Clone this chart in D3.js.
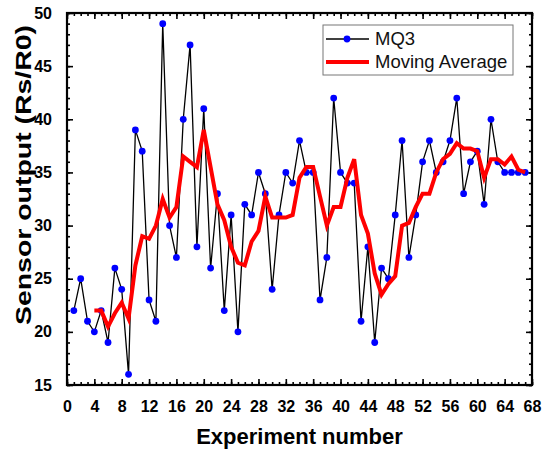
<!DOCTYPE html>
<html>
<head>
<meta charset="utf-8">
<script src="https://cdn.jsdelivr.net/npm/d3@7"></script>
<style>
  body { margin: 0; background: #fff; }
  text { font-family: "Liberation Sans", Arial, sans-serif; }
</style>
</head>
<body>
<div id="chart"></div>
<script>
// MQ3 readings, experiments 1..67
const experiments = d3.range(1, 68);
const mq3 = [22, 25, 21, 20, 22, 19, 26, 24, 16, 39, 37, 23, 21, 49, 30, 27, 40, 47, 28, 41,
             26, 33, 22, 31, 20, 32, 31, 35, 33, 24, 31, 35, 34, 38, 35, 35, 23, 27, 42, 35,
             34, 34, 21, 28, 19, 26, 25, 31, 38, 27, 31, 36, 38, 35, 36, 38, 42, 33, 36, 37,
             32, 40, 36, 35, 35, 35, 35];

const maExperiments = d3.range(4, 68);
const movingAvg = [22, 22, 20.5, 21.75, 22.75, 21.25, 26.25, 29, 28.75, 30, 32.5, 30.75, 31.75,
                   36.5, 36, 35.5, 39, 35.5, 32, 30.5, 28, 26.5, 26.25, 28.5, 29.5, 32.75, 30.75,
                   30.75, 30.75, 31, 34.5, 35.5, 35.5, 32.75, 30, 31.75, 31.75, 34.5, 36.25, 31,
                   29.25, 25.5, 23.5, 24.5, 25.25, 30, 30.25, 31.75, 33, 33, 35, 36.25, 36.75,
                   37.75, 37.25, 37.25, 37, 34.5, 36.25, 36.25, 35.75, 36.5, 35.25, 35];

const xTicks = d3.range(0, 69, 4);
const yTicks = d3.range(15, 51, 5);
const legendLabels = ["MQ3", "Moving Average"];

const W = 550, H = 452;
const margin = {top: 13, right: 18, bottom: 67, left: 67};
const width = W - margin.left - margin.right;
const height = H - margin.top - margin.bottom;

const svg = d3.select("#chart").append("svg")
              .attr("width", W)
              .attr("height", H);
const chart = svg.append("g")
                 .attr("transform", `translate(${margin.left},${margin.top})`);

// scales
const x = d3.scaleLinear().domain([0, 68]).range([0, width]);
const y = d3.scaleLinear().domain([15, 50]).range([height, 0]);

// ticks: minor every 1, major with labels, all pointing inward, mirrored on top/right
const styleAxis = g => {
  g.select(".domain").remove();
  g.selectAll("line").attr("stroke", "#000").attr("stroke-width", 1.6);
};

chart.append("g")
      .attr("transform", `translate(0,${height})`)
      .call(d3.axisBottom(x).tickValues(d3.range(0, 69)).tickSize(-3).tickFormat(""))
      .call(styleAxis);
chart.append("g")
      .attr("transform", `translate(0,${height})`)
      .call(d3.axisBottom(x).tickValues(xTicks).tickSize(-6).tickPadding(16).tickFormat(d3.format("d")))
      .call(styleAxis)
      .selectAll("text")
        .attr("fill", "#000")
        .attr("font-size", "16px")
        .attr("font-weight", "bold");
chart.append("g")
      .call(d3.axisTop(x).tickValues(d3.range(0, 69)).tickSize(-3).tickFormat(""))
      .call(styleAxis);
chart.append("g")
      .call(d3.axisTop(x).tickValues(xTicks).tickSize(-6).tickFormat(""))
      .call(styleAxis);

chart.append("g")
      .call(d3.axisLeft(y).tickValues(d3.range(15, 51)).tickSize(-3).tickFormat(""))
      .call(styleAxis);
chart.append("g")
      .call(d3.axisLeft(y).tickValues(yTicks).tickSize(-6).tickPadding(15).tickFormat(d3.format("d")))
      .call(styleAxis)
      .selectAll("text")
        .attr("fill", "#000")
        .attr("font-size", "16px")
        .attr("font-weight", "bold");
chart.append("g")
      .attr("transform", `translate(${width},0)`)
      .call(d3.axisRight(y).tickValues(d3.range(15, 51)).tickSize(-3).tickFormat(""))
      .call(styleAxis);
chart.append("g")
      .attr("transform", `translate(${width},0)`)
      .call(d3.axisRight(y).tickValues(yTicks).tickSize(-6).tickFormat(""))
      .call(styleAxis);

// frame
chart.append("rect")
      .attr("width", width)
      .attr("height", height)
      .attr("fill", "none")
      .attr("stroke", "#000")
      .attr("stroke-width", 2.2);

// data lines
const rawData = experiments.map((e, i) => ({x: e, y: mq3[i]}));
const maData = maExperiments.map((e, i) => ({x: e, y: movingAvg[i]}));
const line = d3.line().x(d => x(d.x)).y(d => y(d.y));

chart.append("path")
      .datum(rawData)
      .attr("d", line)
      .attr("fill", "none")
      .attr("stroke", "#000")
      .attr("stroke-width", 1.3);

chart.selectAll(".dot")
      .data(rawData)
      .enter().append("circle")
        .attr("class", "dot")
        .attr("cx", d => x(d.x))
        .attr("cy", d => y(d.y))
        .attr("r", 3.4)
        .attr("fill", "#0000ff");

chart.append("path")
      .datum(maData)
      .attr("d", line)
      .attr("fill", "none")
      .attr("stroke", "#ff0000")
      .attr("stroke-width", 4)
      .attr("stroke-linejoin", "miter");

// legend
const legend = svg.append("g").attr("transform", "translate(323,25)");
legend.append("rect")
      .attr("width", 190)
      .attr("height", 50)
      .attr("fill", "#fff")
      .attr("stroke", "#777")
      .attr("stroke-width", 1);
legend.append("line")
      .attr("x1", 3).attr("x2", 46).attr("y1", 14).attr("y2", 14)
      .attr("stroke", "#000").attr("stroke-width", 1.3);
legend.append("circle")
      .attr("cx", 24).attr("cy", 14).attr("r", 3.4).attr("fill", "#0000ff");
legend.append("line")
      .attr("x1", 3).attr("x2", 46).attr("y1", 37).attr("y2", 37)
      .attr("stroke", "#ff0000").attr("stroke-width", 4);
legend.selectAll(".lbl")
      .data(legendLabels)
      .enter().append("text")
        .attr("class", "lbl")
        .attr("x", 52)
        .attr("y", (d, i) => 20 + i * 23)
        .attr("font-size", "18.5px")
        .attr("fill", "#111")
        .text(d => d);

// axis titles
svg.append("text")
    .attr("x", margin.left + width / 2)
    .attr("y", 444)
    .attr("text-anchor", "middle")
    .attr("font-size", "22px")
    .attr("font-weight", "bold")
    .text("Experiment number");

svg.append("text")
    .attr("transform", "translate(31,175) rotate(-90)")
    .attr("text-anchor", "middle")
    .attr("font-size", "22px")
    .attr("font-weight", "bold")
    .attr("textLength", 300)
    .attr("lengthAdjust", "spacingAndGlyphs")
    .text("Sensor output (Rs/R0)");
</script>
</body>
</html>
